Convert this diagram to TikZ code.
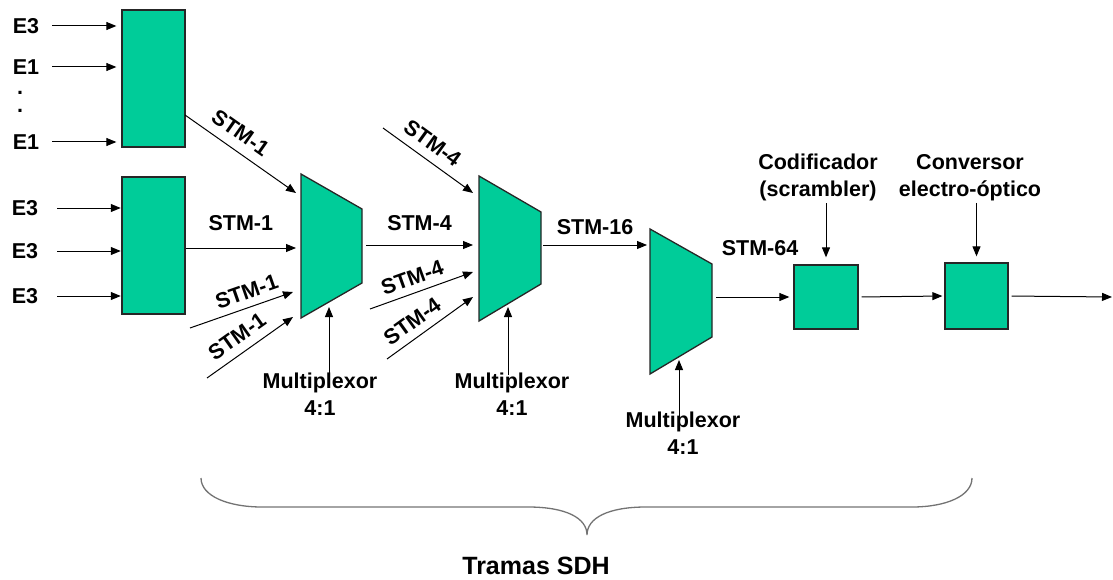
\documentclass[tikz,border=0pt]{standalone}
\usepackage{fontspec}
\setmainfont{Liberation Sans}
\usetikzlibrary{arrows.meta}
\definecolor{sdhgreen}{RGB}{0,204,153}

\begin{document}
\begin{tikzpicture}[x=1pt,y=-1pt]
    % Define styles
    \tikzstyle{block}=[draw=black!85, line width=1.3pt, fill=sdhgreen, inner sep=0pt]
    \tikzstyle{mux}=[draw=black!85, line width=1.3pt, fill=sdhgreen]
    \tikzstyle{lbl}=[font=\fontsize{21.5}{27}\selectfont\bfseries, inner sep=2pt]
    \tikzstyle{arr}=[-{Triangle[length=10pt,width=8pt]}, line width=1pt]
    \tikzstyle{brace}=[draw=black!55, line width=1.3pt]

    \useasboundingbox (0,0) rectangle (1113,580);

    % Place tributary blocks
    \node[block, minimum width=63pt, minimum height=137pt] (blk1) at (153.5,78.5) {};
    \node[block, minimum width=63pt, minimum height=137pt] (blk2) at (153.5,245.5) {};

    % Place input signals
    \node[lbl] (in1) at (26,26) {E3};
    \node[lbl] (in2) at (26,67) {E1};
    \node[lbl] (dot1) at (20,93) {.};
    \node[lbl] (dot2) at (20,111) {.};
    \node[lbl] (in3) at (26,142) {E1};
    \node[lbl] (in4) at (25,208) {E3};
    \node[lbl] (in5) at (25,251) {E3};
    \node[lbl] (in6) at (25,296) {E3};

    % Place multiplexers
    \draw[mux] (301,174) -- (362,209) -- (362,283) -- (301,318) -- cycle;
    \draw[mux] (479,176) -- (541,212) -- (541,284) -- (479,321) -- cycle;
    \draw[mux] (650,229) -- (712,264) -- (712,337) -- (650,374) -- cycle;

    % Connection points
    \coordinate (blk1out) at (185,115);
    \coordinate (src1c) at (190,328);
    \coordinate (src1d) at (207,378);
    \coordinate (mx1a) at (296,193);
    \coordinate (mx1b) at (296,248);
    \coordinate (mx1c) at (293,292);
    \coordinate (mx1d) at (293,317);
    \coordinate (mx1out) at (366,245);
    \coordinate (mx1ctl) at (329,307);
    \coordinate (src4a) at (383,128);
    \coordinate (src4c) at (370,309);
    \coordinate (src4d) at (387,359);
    \coordinate (mx2a) at (473,193);
    \coordinate (mx2b) at (473,245);
    \coordinate (mx2c) at (473,272);
    \coordinate (mx2d) at (473,297);
    \coordinate (mx2out) at (543,245);
    \coordinate (mx2ctl) at (508,307);
    \coordinate (mx3in) at (647,245);
    \coordinate (mx3out) at (716,297);
    \coordinate (mx3ctl) at (679,360);
    \coordinate (out) at (1112,297);

    % Place coder and converter
    \node[block, minimum width=64pt, minimum height=64pt] (codif) at (826,297) {};
    \node[block, minimum width=63pt, minimum height=66pt] (conv) at (976.5,296) {};

    % Inputs to tributary blocks
    \foreach \s in {in1,in2,in3}
        \draw[arr, shorten <=11pt, shorten >=5pt] (\s.east) -- (\s.east -| blk1.west);
    \foreach \s in {in4,in5,in6}
        \draw[arr, shorten <=17pt, shorten >=0.6pt] (\s.east) -- (\s.east -| blk2.west);

    % First multiplexer
    \draw[arr] (blk1out) -- node[lbl, sloped, above=7.5pt, pos=0.41] (t1a) {STM-1} (mx1a);
    \draw[arr] (blk2.east |- mx1b) -- node[lbl, above=14.3pt] (t1b) {STM-1} (mx1b);
    \draw[arr] (src1c) -- node[lbl, sloped, above=5.5pt, pos=0.6] (t1c) {STM-1} (mx1c);
    \draw[arr] (src1d) -- node[lbl, sloped, above=6.4pt, pos=0.46] (t1d) {STM-1} (mx1d);

    % Second multiplexer
    \draw[arr] (src4a) -- node[lbl, sloped, above=6.8pt, pos=0.44] (t2a) {STM-4} (mx2a);
    \draw[arr] (mx1out) -- node[lbl, above=11.3pt] (t2b) {STM-4} (mx2b);
    \draw[arr] (src4c) -- node[lbl, sloped, above=5.3pt, pos=0.46] (t2c) {STM-4} (mx2c);
    \draw[arr] (src4d) -- node[lbl, sloped, above=5.7pt, pos=0.4] (t2d) {STM-4} (mx2d);

    % Third multiplexer and line side
    \draw[arr] (mx2out) -- node[lbl, above=7.8pt] (t3) {STM-16} (mx3in);
    \node[lbl] (t4) at (760,248) {STM-64};
    \draw[arr, shorten >=4pt] (mx3out) -- (codif.west);
    \draw[arr, shorten <=3pt, shorten >=2pt] (codif.east) -- (conv.west);
    \draw[arr, shorten <=3pt] (conv.east) -- (out);

    % Control labels
    \node[lbl, align=center, anchor=north] (mxl1) at (320,371) {Multiplexor\\4:1};
    \node[lbl, align=center, anchor=north] (mxl2) at (512,371) {Multiplexor\\4:1};
    \node[lbl, align=center, anchor=north] (mxl3) at (683,410) {Multiplexor\\4:1};
    \draw[arr, shorten <=-5pt] (mx1ctl |- mxl1.north) -- (mx1ctl);
    \draw[arr, shorten <=-4pt] (mx2ctl |- mxl2.north) -- (mx2ctl);
    \draw[arr, shorten <=-7pt] (mx3ctl |- mxl3.north) -- (mx3ctl);

    \node[lbl, align=center, anchor=north] (codl) at (818,152) {Codificador\\(scrambler)};
    \node[lbl, align=center, anchor=north] (convl) at (970,152) {Conversor\\electro-óptico};
    \draw[arr, shorten >=7pt] (codl.south -| codif.north) -- (codif.north);
    \draw[arr, shorten >=6pt] (convl.south -| conv.north) -- (conv.north);

    % Brace over SDH frames
    \draw[brace] (201,478) .. controls (201,496) and (228,507) .. (262,507) -- (528,507)
        .. controls (566,507) and (587,518) .. (587,535)
        .. controls (587,518) and (608,507) .. (646,507) -- (912,507)
        .. controls (946,507) and (972,496) .. (972,478);
    \node[lbl, font=\fontsize{25}{30}\selectfont\bfseries] (tramas) at (536,566) {Tramas SDH};
\end{tikzpicture}
\end{document}
